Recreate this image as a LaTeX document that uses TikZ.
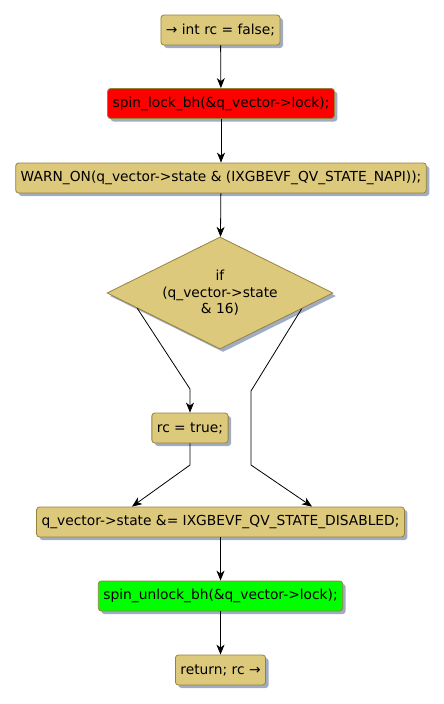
\documentclass[tikz,border=0pt]{standalone}
\usepackage{fontspec}
\setmainfont{DejaVu Sans}
\usetikzlibrary{arrows.meta,shapes.geometric,shadows,calc}

\definecolor{actfill}{RGB}{221,201,124}
\definecolor{actline}{RGB}{150,130,60}
\definecolor{actshadow}{RGB}{160,172,196}

\begin{document}
\begin{tikzpicture}[x=1pt, y=-1pt, >={Stealth[length=10pt,width=8pt,inset=3pt]},
    every node/.style={font=\fontsize{13.8}{16.5}\selectfont},
    act/.style={draw=actline, fill=actfill, rounded corners=3pt, line width=0.8pt,
        minimum height=30pt, inner xsep=5pt, inner ysep=0pt,
        drop shadow={shadow xshift=3pt, shadow yshift=-3pt, fill=actshadow, opacity=1}},
    cond/.style={act, shape=diamond, rounded corners=0pt, inner sep=0pt,
        minimum width=226pt, minimum height=112pt},
    flow/.style={->, line width=0.8pt}]
    \useasboundingbox (0,0) rectangle (444,704);

    \node[act] (start) at (220.5,30) {→ int rc = false;};
    \node[act, fill=red] (lock) at (221,103.5) {spin\_lock\_bh(\&q\_vector->lock);};
    \node[act] (warn) at (221,178) {WARN\_ON(q\_vector->state \& (IXGBEVF\_QV\_STATE\_NAPI));};
    \node[cond] (test) at (220,293) {};
    \node[align=center] (testtext) at (test) {if\\(q\_vector->state\\\& 16)};
    \node[act] (rctrue) at (190,428) {rc = true;};
    \node[act] (clear) at (220.5,522) {q\_vector->state \&= IXGBEVF\_QV\_STATE\_DISABLED;};
    \node[act, fill=green] (unlock) at (220.5,596) {spin\_unlock\_bh(\&q\_vector->lock);};
    \node[act] (ret) at (220.5,670) {return; rc →};

    \draw[flow] (start) -- (lock);
    \draw[flow] (lock) -- (warn);
    \draw[flow] (warn) -- (test);
    \draw[flow] ($(test.west)!0.27!(test.south)$) -- (rctrue.north |- 0,389) -- (rctrue.north);
    \draw[flow] ($(test.east)!0.28!(test.south)$) -- (251,391) -- (251,465)
        -- ($(clear.north)+(91.5,0)$);
    \draw[flow] (rctrue.south) -- (rctrue.south |- 0,465) -- ($(clear.north)+(-88.5,0)$);
    \draw[flow] (clear) -- (unlock);
    \draw[flow] (unlock) -- (ret);
\end{tikzpicture}
\end{document}
